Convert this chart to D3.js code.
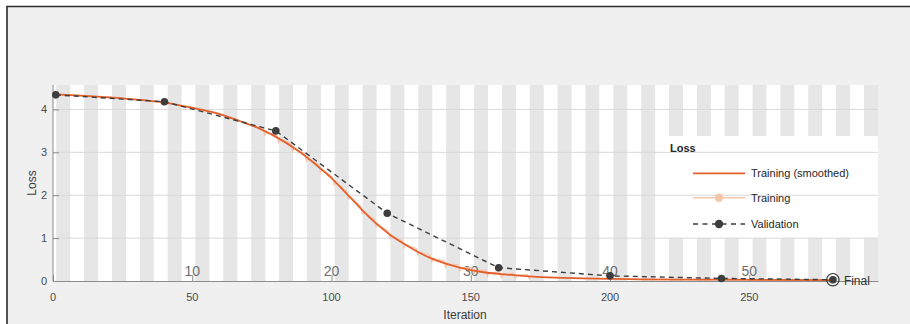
<!DOCTYPE html>
<html>

<head>
  <title>Training Progress - Loss</title>
  <meta charset="utf-8">
  <style>
    body {
      padding: 0;
      margin: 0;
      background: white;
      font-family: "Liberation Sans", Arial, sans-serif;
    }
    .tick-label {
      fill: #4a4a4a;
      font-size: 11px;
    }
    .epoch-label {
      fill: #6e6e6e;
      font-size: 14px;
      text-anchor: middle;
    }
    .axis-title {
      fill: #3c3c3c;
      font-size: 12px;
      text-anchor: middle;
    }
    .legend text {
      fill: #262626;
      font-size: 11px;
    }
  </style>
</head>

<body>
  <div id="chart"></div>

  <script src="https://d3js.org/d3.v7.min.js"></script>
  <script>
      // chart data
      var smoothIter = [1, 10, 20, 30, 40, 50, 59, 67, 74, 83, 89, 95, 100, 104, 108, 115, 121, 127, 135, 145, 154, 163, 175, 190, 210, 240, 280]
      var smoothLoss = [4.35, 4.32, 4.28, 4.23, 4.16, 4.04, 3.91, 3.73, 3.56, 3.25, 2.99, 2.68, 2.40, 2.13, 1.86, 1.40, 1.08, 0.83, 0.55, 0.33, 0.21, 0.15, 0.09, 0.06, 0.04, 0.03, 0.02]

      // raw training loss (light line, short spikes at each epoch start)
      var trainIter = [1, 20, 40, 60, 70,
        75.4, 76, 76.6, 80.4, 81, 81.6, 85.4, 86, 86.6, 90.4, 91, 91.6, 95.4, 96, 96.6,
        100.4, 101, 101.6, 105.4, 106, 106.6, 110.4, 111, 111.6, 115.4, 116, 116.6, 120.4, 121, 121.6,
        125.4, 126, 126.6, 130.4, 131, 131.6, 135.4, 136, 136.6, 140.4, 141, 141.6, 145.4, 146, 146.6,
        150.4, 151, 151.6, 155.4, 156, 156.6, 160.4, 161, 161.6, 165.4, 166, 166.6, 170.4, 171, 171.6,
        190, 210, 240, 280]
      var trainLoss = [4.36, 4.29, 4.17, 3.89, 3.66,
        3.56, 3.40, 3.47, 3.39, 3.23, 3.30, 3.20, 3.03, 3.09, 2.97, 2.80, 2.86, 2.71, 2.53, 2.59,
        2.42, 2.24, 2.29, 2.09, 1.91, 1.96, 1.75, 1.57, 1.62, 1.43, 1.26, 1.32, 1.16, 0.99, 1.05,
        0.94, 0.78, 0.85, 0.76, 0.60, 0.67, 0.60, 0.44, 0.52, 0.47, 0.32, 0.40, 0.38, 0.23, 0.31,
        0.31, 0.16, 0.24, 0.26, 0.12, 0.19, 0.21, 0.08, 0.16, 0.18, 0.06, 0.13, 0.15, 0.05, 0.11,
        0.06, 0.04, 0.03, 0.02]

      var valIter = [1, 40, 80, 120, 160, 200, 240, 280]
      var valLoss = [4.34, 4.18, 3.50, 1.58, 0.31, 0.12, 0.06, 0.03]

      // axis ticks
      var xTicks = [0, 50, 100, 150, 200, 250]
      var yTicks = [0, 1, 2, 3, 4]
      var epochTicks = [50, 100, 150, 200, 250]
      var epochLabels = ["10", "20", "30", "40", "50"]
      var itersPerEpoch = 5

      var legendItems = ["Training (smoothed)", "Training", "Validation"]

      // colours
      var smoothColor = "#e4602a",
        rawColor = "#f5c5aa",
        valColor = "#3d3d3d"

      var width = 910,
        height = 324

      var svg = d3.select("#chart")
        .append("svg")
        .attr("width", width)
        .attr("height", height)

      // figure frame
      svg.append("rect")
        .attr("x", 7).attr("y", 6.5)
        .attr("width", width - 7).attr("height", height - 6.5)
        .attr("fill", "#f0f0f0")
      svg.append("path")
        .attr("d", "M7," + height + "V6.5H" + width)
        .attr("fill", "none")
        .attr("stroke", "#2b2b2b")
        .attr("stroke-width", 1.6)

      // scales
      var x = d3.scaleLinear().domain([0, 296.2]).range([53, 878])
      var y = d3.scaleLinear().domain([0, 4.57]).range([281, 85])

      // alternating epoch stripes
      var stripeStart = 1.2
      var stripes = d3.range(0, 60).map(function (i) {
        return { x0: stripeStart + (i - 1) * itersPerEpoch, x1: stripeStart + i * itersPerEpoch, even: i % 2 === 1 }
      })
      svg.append("g")
        .selectAll("rect")
        .data(stripes)
        .enter().append("rect")
        .attr("x", function (d) { return x(Math.max(0, d.x0)) })
        .attr("width", function (d) { return Math.max(0, x(Math.min(296.2, d.x1)) - x(Math.max(0, d.x0))) })
        .attr("y", y(4.57))
        .attr("height", y(0) - y(4.57))
        .attr("fill", function (d) { return d.even ? "#e6e6e6" : "#ffffff" })

      // legend box (behind the grid)
      var lx = 667, ly = 136
      svg.append("rect")
        .attr("x", lx).attr("y", ly)
        .attr("width", 878 - lx).attr("height", 102)
        .attr("fill", "white")

      // horizontal grid lines
      svg.append("g")
        .selectAll("line")
        .data(yTicks.slice(1))
        .enter().append("line")
        .attr("x1", x(0)).attr("x2", x(296.2))
        .attr("y1", function (d) { return y(d) })
        .attr("y2", function (d) { return y(d) })
        .attr("stroke", "#d9d9d9")
        .attr("stroke-width", 1)

      // y axis
      var yAxis = svg.append("g")
        .attr("transform", "translate(" + x(0) + ",0)")
        .call(d3.axisRight(y).tickValues(yTicks).tickSize(6).tickFormat(""))
      yAxis.select(".domain").attr("stroke", "#8c8c8c").attr("d", "M0," + y(4.57) + "V" + y(0))
      yAxis.selectAll(".tick line").attr("stroke", "#8c8c8c")

      svg.append("g")
        .selectAll("text")
        .data(yTicks)
        .enter().append("text")
        .attr("class", "tick-label")
        .attr("x", 47)
        .attr("y", function (d) { return y(d) + 4 })
        .attr("text-anchor", "end")
        .text(function (d) { return d })

      // x axis (ticks point inward)
      var xAxis = svg.append("g")
        .attr("transform", "translate(0," + y(0) + ")")
        .call(d3.axisTop(x).tickValues(xTicks).tickSize(6).tickSizeOuter(0).tickFormat(""))
      xAxis.select(".domain").attr("stroke", "#8c8c8c")
      xAxis.selectAll(".tick line").attr("stroke", "#8c8c8c")

      svg.append("g")
        .selectAll("text")
        .data(xTicks)
        .enter().append("text")
        .attr("class", "tick-label")
        .attr("x", function (d) { return x(d) })
        .attr("y", 300.5)
        .attr("text-anchor", "middle")
        .text(function (d) { return d })

      // epoch labels sitting on the axis
      svg.append("g")
        .selectAll("text")
        .data(epochTicks)
        .enter().append("text")
        .attr("class", "epoch-label")
        .attr("x", function (d) { return x(d) })
        .attr("y", 276)
        .text(function (d, i) { return epochLabels[i] })

      // axis titles
      svg.append("text")
        .attr("class", "axis-title")
        .attr("x", 465)
        .attr("y", 318.5)
        .text("Iteration")
      svg.append("text")
        .attr("class", "axis-title")
        .attr("transform", "translate(36,183) rotate(-90)")
        .text("Loss")

      // line generators
      var rawLine = d3.line()
        .x(function (d) { return x(d[0]) })
        .y(function (d) { return y(d[1]) })
      var smoothLine = d3.line()
        .x(function (d) { return x(d[0]) })
        .y(function (d) { return y(d[1]) })
        .curve(d3.curveMonotoneX)

      // raw training
      svg.append("path")
        .datum(d3.zip(trainIter, trainLoss))
        .attr("d", rawLine)
        .attr("fill", "none")
        .attr("stroke", rawColor)
        .attr("stroke-width", 1.2)

      // smoothed training
      svg.append("path")
        .datum(d3.zip(smoothIter, smoothLoss))
        .attr("d", smoothLine)
        .attr("fill", "none")
        .attr("stroke", smoothColor)
        .attr("stroke-width", 1.8)

      // validation
      var valData = d3.zip(valIter, valLoss)
      svg.append("path")
        .datum(valData)
        .attr("d", rawLine)
        .attr("fill", "none")
        .attr("stroke", valColor)
        .attr("stroke-width", 1.4)
        .attr("stroke-dasharray", "5,4")
      svg.append("g")
        .selectAll("circle")
        .data(valData)
        .enter().append("circle")
        .attr("cx", function (d) { return x(d[0]) })
        .attr("cy", function (d) { return y(d[1]) })
        .attr("r", 3.8)
        .attr("fill", valColor)

      // final validation marker
      var last = valData[valData.length - 1]
      svg.append("circle")
        .attr("cx", x(last[0]))
        .attr("cy", y(last[1]))
        .attr("r", 6.2)
        .attr("fill", "none")
        .attr("stroke", "#333")
        .attr("stroke-width", 1.2)
      svg.append("text")
        .attr("x", x(last[0]) + 11)
        .attr("y", y(last[1]) + 5)
        .attr("fill", "#333")
        .style("font-size", "12px")
        .text("Final")

      // legend
      var legend = svg.append("g").attr("class", "legend")
      legend.append("text")
        .attr("x", lx + 3)
        .attr("y", 152)
        .style("font-weight", "bold")
        .text("Loss")

      var rowY = [173.3, 197.7, 224]
      var rows = legend.selectAll("g.row")
        .data(legendItems)
        .enter().append("g")
        .attr("class", "row")
        .attr("transform", function (d, i) { return "translate(0," + rowY[i] + ")" })

      rows.append("line")
        .attr("x1", 693).attr("x2", 745)
        .attr("stroke", function (d, i) { return [smoothColor, rawColor, valColor][i] })
        .attr("stroke-width", function (d, i) { return [1.8, 1.4, 1.4][i] })
        .attr("stroke-dasharray", function (d, i) { return i === 2 ? "5,4.5" : null })

      rows.filter(function (d, i) { return i > 0 })
        .append("circle")
        .attr("cx", 719)
        .attr("r", 4.2)
        .attr("fill", function (d) { return d === "Training" ? rawColor : valColor })

      rows.append("text")
        .attr("x", 751)
        .attr("y", 4)
        .text(function (d) { return d })
  </script>
</body>

</html>
